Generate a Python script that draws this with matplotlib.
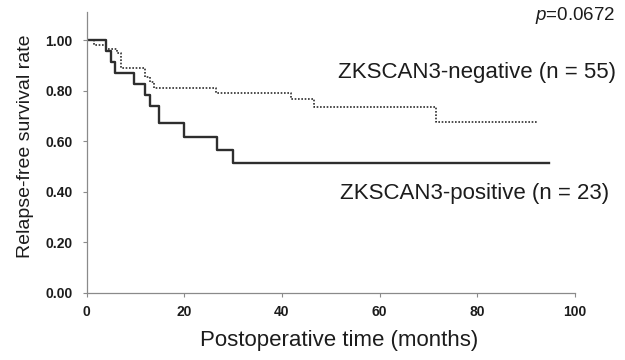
import numpy as np
import matplotlib
matplotlib.use("Agg")
import matplotlib.pyplot as plt

# Kaplan-Meier steps (months, survival)
POS_TIME = [0, 3.9, 5.0, 5.9, 9.8, 11.9, 12.9, 14.9, 20.0, 26.8, 29.9, 94.7]
POS_SURV = [1.00, 0.957, 0.913, 0.870, 0.826, 0.783, 0.739, 0.670, 0.616, 0.565, 0.514, 0.514]
NEG_TIME = [0, 1.6, 3.9, 6.3, 7.1, 11.9, 12.9, 13.9, 26.5, 41.8, 46.6, 71.5, 92.3]
NEG_SURV = [1.00, 0.982, 0.964, 0.947, 0.890, 0.854, 0.834, 0.811, 0.791, 0.766, 0.735, 0.676, 0.676]

POS_LABEL = "ZKSCAN3-positive (n = 23)"
NEG_LABEL = "ZKSCAN3-negative (n = 55)"
P_VALUE = "0.0672"
YTICKS = [0, 0.2, 0.4, 0.6, 0.8, 1.0]
XTICKS = [0, 20, 40, 60, 80, 100]

plt.rcParams["font.family"] = ["Liberation Sans", "DejaVu Sans"]
plt.rcParams["mathtext.fontset"] = "custom"
plt.rcParams["mathtext.it"] = "Liberation Sans:italic"
plt.rcParams["mathtext.rm"] = "Liberation Sans"

TXT = "#1c1c1c"
LINE = "#2e2e2e"
AX = "#8a8a8a"

fig = plt.figure(figsize=(6.25, 3.6), dpi=100)
ax = fig.add_axes([0.1384, 0.1875, 0.7816, 0.779])

ax.step(POS_TIME, POS_SURV, where="post", color=LINE, linewidth=1.7)
ax.step(NEG_TIME, NEG_SURV, where="post", color=LINE, linewidth=1.2, linestyle=(0, (1, 1)))

ax.set_xlim(0, 100)
ax.set_ylim(0, 1.111)
ax.set_xticks(XTICKS)
ax.set_yticks(YTICKS)
ax.set_yticklabels([f"{v:.2f}" for v in YTICKS])
for lab in ax.get_xticklabels() + ax.get_yticklabels():
    lab.set_fontweight("bold")
    lab.set_fontsize(10)
    lab.set_color(TXT)
ax.tick_params(axis="y", direction="out", length=3, width=0.8, color=AX, pad=7)
ax.tick_params(axis="x", direction="out", length=3, width=0.8, color=AX, pad=6)
for s in ["top", "right"]:
    ax.spines[s].set_visible(False)
for s in ["left", "bottom"]:
    ax.spines[s].set_color(AX)
    ax.spines[s].set_linewidth(0.9)

ax.set_xlabel("Postoperative time (months)", fontsize=16, color=TXT, labelpad=8)
ax.xaxis.label.set_x(0.518)
ax.set_ylabel("Relapse-free survival rate", fontsize=14, color=TXT, labelpad=8)
ax.yaxis.label.set_y(0.52)

ax.text(51.5, 0.873, NEG_LABEL, fontsize=16, color=TXT, va="center")
ax.text(51.9, 0.394, POS_LABEL, fontsize=16, color=TXT, va="center")
ax.text(91.8, 1.099, "$\\mathit{p}$=" + P_VALUE, fontsize=13.5, color=TXT, va="center")

fig.savefig("out.png", dpi=100)
